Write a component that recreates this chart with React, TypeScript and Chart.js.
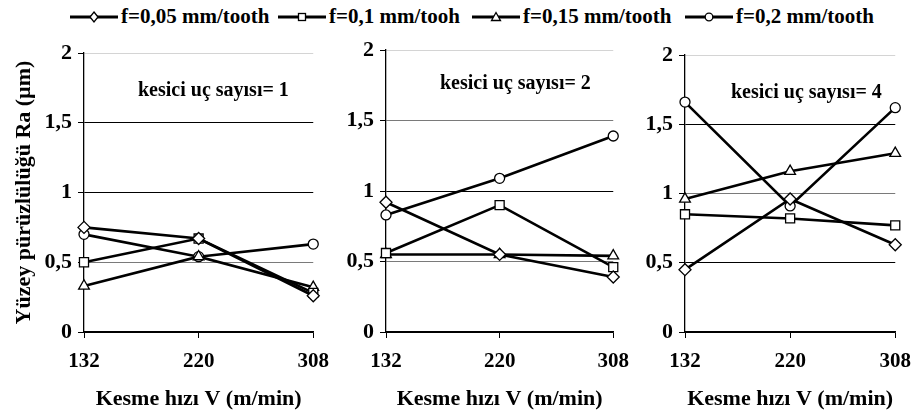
import React, { useEffect, useRef } from "react";
import { Chart, registerables } from "chart.js";

Chart.register(...registerables);

// ---------- data ----------
const speeds = ["132", "220", "308"];
const yTickValues = [0, 0.5, 1, 1.5, 2];
const seriesNames = ["f=0,05 mm/tooth", "f=0,1 mm/tooh", "f=0,15 mm/tooth", "f=0,2 mm/tooth"];
const markerStyles = ["rectRot", "rect", "triangle", "circle"];

// kesici uç sayısı = 1
const p1_f005 = [0.75, 0.67, 0.26];
const p1_f010 = [0.5, 0.67, 0.28];
const p1_f015 = [0.33, 0.54, 0.32];
const p1_f020 = [0.7, 0.54, 0.63];

// kesici uç sayısı = 2
const p2_f005 = [0.92, 0.55, 0.39];
const p2_f010 = [0.56, 0.9, 0.46];
const p2_f015 = [0.55, 0.55, 0.54];
const p2_f020 = [0.83, 1.09, 1.39];

// kesici uç sayısı = 4
const p3_f005 = [0.45, 0.96, 0.63];
const p3_f010 = [0.85, 0.82, 0.77];
const p3_f015 = [0.96, 1.16, 1.29];
const p3_f020 = [1.66, 0.91, 1.62];

const panelNotes = ["kesici uç sayısı= 1", "kesici uç sayısı= 2", "kesici uç sayısı= 4"];
const yTitle = "Yüzey pürüzlülüğü Ra (µm)";
const xTitle = "Kesme hızı V (m/min)";

// ---------- styles ----------
const FONT = "'Liberation Serif', 'Times New Roman', serif";
const markerRadii = [6, 6.4, 6.2, 5];
const legendLefts = [70, 278, 472, 685];

const notePlugin = {
  id: "panelNote",
  afterDraw(chart: any, _args: any, opts: any) {
    const { ctx, chartArea } = chart;
    ctx.save();
    ctx.font = `bold ${opts.size}px ${FONT}`;
    ctx.fillStyle = "#000";
    ctx.textBaseline = "alphabetic";
    ctx.textAlign = "left";
    ctx.fillText(opts.text, chartArea.left + opts.dx, chartArea.top + opts.dy);
    ctx.restore();
  },
};

type PanelCfg = {
  series: number[][];
  note: string;
  left: number;
  width: number;
  yWidth: number;
  padTop: number;
  padRight: number;
  showYTitle: boolean;
  noteDx: number;
  noteDy: number;
  grayLines: number[];
};

function Panel({ cfg }: { cfg: PanelCfg }) {
  const ref = useRef<HTMLCanvasElement | null>(null);
  useEffect(() => {
    if (!ref.current) return;
    const xTickFont = { family: FONT, size: 21, weight: "bold" as const };
    const yTickFont = { family: FONT, size: 22, weight: "bold" as const };
    const chart = new Chart(ref.current, {
      type: "line",
      data: {
        labels: speeds,
        datasets: cfg.series.map((vals, i) => ({
          label: seriesNames[i],
          data: vals,
          borderColor: "#000",
          borderWidth: 2.6,
          pointStyle: markerStyles[i] as any,
          pointRadius: markerRadii[i],
          pointBackgroundColor: "#fff",
          pointBorderColor: "#000",
          pointBorderWidth: 1.3,
          tension: 0,
          clip: false as any,
        })),
      },
      options: {
        responsive: false,
        animation: false,
        events: [],
        layout: { padding: { top: cfg.padTop, right: cfg.padRight, left: 0, bottom: 0 } },
        plugins: {
          legend: { display: false },
          tooltip: { enabled: false },
          panelNote: { text: cfg.note, dx: cfg.noteDx, dy: cfg.noteDy, size: 20 },
        } as any,
        scales: {
          x: {
            type: "category",
            offset: false,
            grid: { drawOnChartArea: false, drawTicks: true, tickLength: 6, tickColor: "#000", color: "#000" },
            border: { color: "#000", width: 1.3 },
            ticks: { font: xTickFont, color: "#000", padding: 11, maxRotation: 0, autoSkip: false },
            title: {
              display: true,
              text: xTitle,
              color: "#000",
              font: { family: FONT, size: 22, weight: "bold" },
              padding: { top: 0, bottom: 1 },
            },
            afterFit: (s: any) => {
              s.height = 82;
            },
          },
          y: {
            min: 0,
            max: 2,
            afterBuildTicks: (s: any) => {
              s.ticks = yTickValues.map((v) => ({ value: v }));
            },
            ticks: {
              font: yTickFont,
              color: "#000",
              padding: 6,
              callback: (v: any) => String(v).replace(".", ","),
            },
            grid: {
              color: (c: any) =>
                c.tick && c.tick.value === 2
                  ? "#d4d4d4"
                  : cfg.grayLines.includes(c.tick?.value)
                  ? "#7a7a7a"
                  : "#000",
              tickColor: "#000",
              tickLength: 6,
              lineWidth: 1,
            },
            border: { color: "#000", width: 1.3 },
            title: {
              display: cfg.showYTitle,
              text: yTitle,
              color: "#000",
              font: { family: FONT, size: 22, weight: "bold" },
              padding: { top: 11, bottom: 0 },
            },
            afterFit: (s: any) => {
              s.width = cfg.yWidth;
            },
          },
        },
      },
      plugins: [notePlugin],
    });
    return () => chart.destroy();
  }, [cfg]);
  return (
    <canvas
      ref={ref}
      width={cfg.width}
      height={384}
      style={{ position: "absolute", left: cfg.left, top: 30, width: cfg.width, height: 384 }}
    />
  );
}

const panels: PanelCfg[] = [
  {
    series: [p1_f005, p1_f010, p1_f015, p1_f020],
    note: panelNotes[0],
    left: 0,
    width: 340,
    yWidth: 84,
    padTop: 23,
    padRight: 26,
    showYTitle: true,
    noteDx: 54,
    noteDy: 43,
    grayLines: [0.5],
  },
  {
    series: [p2_f005, p2_f010, p2_f015, p2_f020],
    note: panelNotes[1],
    left: 330,
    width: 310,
    yWidth: 56,
    padTop: 20,
    padRight: 22,
    showYTitle: false,
    noteDx: 54,
    noteDy: 39,
    grayLines: [0.5, 1.5],
  },
  {
    series: [p3_f005, p3_f010, p3_f015, p3_f020],
    note: panelNotes[2],
    left: 630,
    width: 292,
    yWidth: 55,
    padTop: 25,
    padRight: 20,
    showYTitle: false,
    noteDx: 46,
    noteDy: 43,
    grayLines: [1],
  },
];

function LegendIcon({ style }: { style: string }) {
  let marker: React.ReactNode = null;
  const common = { fill: "#fff", stroke: "#000", strokeWidth: 1.3 };
  if (style === "rectRot") marker = <polygon points="24,2 28,7 24,12 20,7" {...common} />;
  else if (style === "rect") marker = <rect x={20.5} y={3.5} width={7} height={7} {...common} />;
  else if (style === "triangle") marker = <polygon points="24,2.5 28.5,10.5 19.5,10.5" {...common} />;
  else marker = <circle cx={24} cy={7} r={3.8} {...common} />;
  return (
    <svg width={48} height={14} style={{ display: "block" }}>
      <line x1={0} y1={7} x2={48} y2={7} stroke="#000" strokeWidth={3} />
      {marker}
    </svg>
  );
}

export default function App() {
  return (
    <div style={{ position: "fixed", left: 0, top: 0, width: 922, height: 414, background: "#fff" }}>
      {seriesNames.map((name, i) => (
        <div
          key={name}
          style={{
            position: "absolute",
            left: legendLefts[i],
            top: 4,
            display: "flex",
            alignItems: "center",
            fontFamily: FONT,
            fontWeight: "bold",
            fontSize: 21,
            whiteSpace: "nowrap",
            color: "#000",
          }}
        >
          <LegendIcon style={markerStyles[i]} />
          <span style={{ marginLeft: 3 }}>{name}</span>
        </div>
      ))}
      {panels.map((p, i) => (
        <Panel key={i} cfg={p} />
      ))}
    </div>
  );
}
